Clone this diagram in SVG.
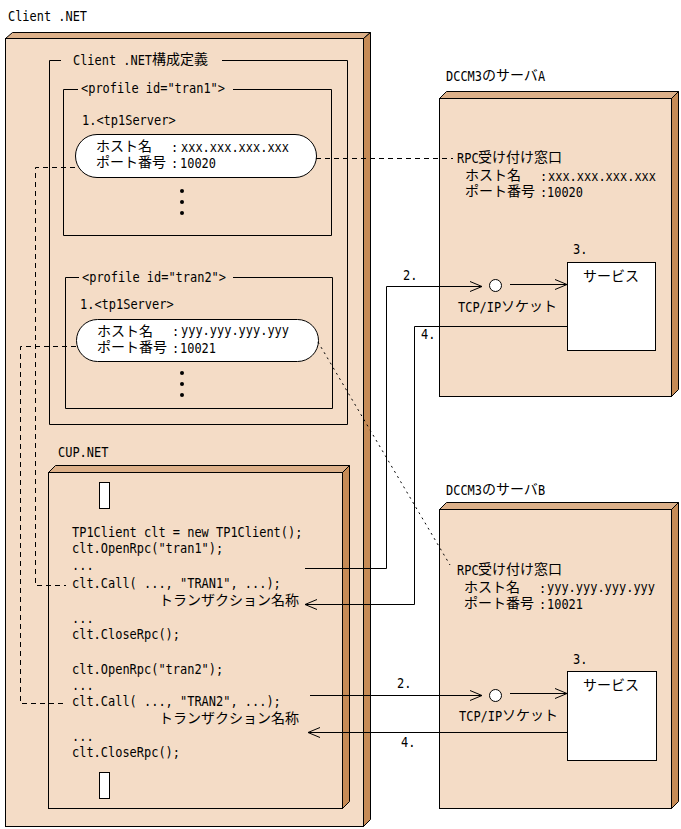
<svg xmlns="http://www.w3.org/2000/svg" width="681" height="829" viewBox="0 0 681 829">
<defs>
<style>
.m{font-family:"DejaVu Sans Mono","Liberation Mono","Noto Sans CJK JP",monospace;font-size:14px;fill:#000}
.j{font-family:"Noto Sans CJK JP",sans-serif;font-size:14px;fill:#000}
.front{fill:#F4DCC6;stroke:#000;stroke-width:1}
.top{fill:#DCB089;stroke:#000;stroke-width:1}
.side{fill:#C68B56;stroke:#000;stroke-width:1}
.ln{fill:none;stroke:#000;stroke-width:1}
.dash{fill:none;stroke:#000;stroke-width:1;stroke-dasharray:5 4}
.dot{fill:none;stroke:#000;stroke-width:1;stroke-dasharray:2 4}
.wb{fill:#fff;stroke:#000;stroke-width:1}
</style>
<marker id="ah" viewBox="0 0 13 12" refX="12" refY="6" markerWidth="13" markerHeight="12" markerUnits="userSpaceOnUse" orient="auto">
<path d="M0,1 L12,6 L0,11" fill="none" stroke="#000" stroke-width="1"/>
</marker>
</defs>
<rect width="681" height="829" fill="#fff"/>

<g id="client-net">
<text class="m" x="8" y="21" textLength="79" lengthAdjust="spacingAndGlyphs">Client .NET</text>
<polygon class="top" points="5.5,38.5 12.5,32.5 370.5,32.5 363.5,38.5"/>
<polygon class="side" points="363.5,38.5 370.5,32.5 370.5,819.5 363.5,826.5"/>
<rect class="front" x="5.5" y="38.5" width="358" height="788"/>
</g>

<g id="config-frame">
<path class="ln" d="M61,60.5 H49.5 V424.5 H347.5 V60.5 H222"/>
<text class="m" x="73" y="65" textLength="79" lengthAdjust="spacingAndGlyphs">Client .NET</text>
<text class="j" x="152" y="64">構成定義</text>
</g>

<g id="profile-tran1">
<path class="ln" d="M78,89.5 H63.5 V235.5 H331.5 V89.5 H233"/>
<text class="m" x="81" y="93" textLength="144" lengthAdjust="spacingAndGlyphs">&lt;profile id="tran1"&gt;</text>
<text class="m" x="82" y="125" textLength="93.6" lengthAdjust="spacingAndGlyphs">1.&lt;tp1Server&gt;</text>
<rect class="wb" x="75.5" y="134.5" width="241" height="43" rx="21.5" ry="21.5"/>
<text class="j" x="96" y="151">ホスト名</text>
<text class="m" x="171" y="152" textLength="7.2" lengthAdjust="spacingAndGlyphs">:</text>
<text class="m" x="181" y="152" textLength="108" lengthAdjust="spacingAndGlyphs">xxx.xxx.xxx.xxx</text>
<text class="j" x="96" y="167">ポート番号</text>
<text class="m" x="171" y="168" textLength="7.2" lengthAdjust="spacingAndGlyphs">:</text>
<text class="m" x="180" y="168" textLength="36" lengthAdjust="spacingAndGlyphs">10020</text>
<circle cx="182" cy="191" r="2"/>
<circle cx="182" cy="202" r="2"/>
<circle cx="182" cy="213" r="2"/>
</g>

<g id="profile-tran2">
<path class="ln" d="M79,277.5 H65.5 V408.5 H332.5 V277.5 H233"/>
<text class="m" x="82" y="282" textLength="144" lengthAdjust="spacingAndGlyphs">&lt;profile id="tran2"&gt;</text>
<text class="m" x="80" y="309" textLength="93.6" lengthAdjust="spacingAndGlyphs">1.&lt;tp1Server&gt;</text>
<rect class="wb" x="76.5" y="319.5" width="242" height="42" rx="21" ry="21"/>
<text class="j" x="97" y="336">ホスト名</text>
<text class="m" x="172" y="336" textLength="7.2" lengthAdjust="spacingAndGlyphs">:</text>
<text class="m" x="181" y="335" textLength="108" lengthAdjust="spacingAndGlyphs">yyy.yyy.yyy.yyy</text>
<text class="j" x="97" y="352">ポート番号</text>
<text class="m" x="172" y="353" textLength="7.2" lengthAdjust="spacingAndGlyphs">:</text>
<text class="m" x="180" y="353" textLength="36" lengthAdjust="spacingAndGlyphs">10021</text>
<circle cx="182" cy="373" r="2"/>
<circle cx="182" cy="384" r="2"/>
<circle cx="182" cy="395" r="2"/>
</g>

<g id="cup-net">
<text class="m" x="58" y="457" textLength="50.4" lengthAdjust="spacingAndGlyphs">CUP.NET</text>
<polygon class="top" points="48.5,472.5 55.5,465.5 349.5,465.5 342.5,472.5"/>
<polygon class="side" points="342.5,472.5 349.5,465.5 349.5,801.5 342.5,808.5"/>
<rect class="front" x="48.5" y="472.5" width="294" height="336"/>
<rect class="wb" x="99.5" y="482.5" width="10" height="26"/>
<rect class="wb" x="99.5" y="772.5" width="10" height="26"/>
<text class="m" x="72" y="537" textLength="230.4" lengthAdjust="spacingAndGlyphs">TP1Client clt = new TP1Client();</text>
<text class="m" x="72" y="553" textLength="151.2" lengthAdjust="spacingAndGlyphs">clt.OpenRpc("tran1");</text>
<text class="m" x="72" y="570" textLength="21.6" lengthAdjust="spacingAndGlyphs">...</text>
<text class="m" x="72" y="588" textLength="208.8" lengthAdjust="spacingAndGlyphs">clt.Call( ..., "TRAN1", ...);</text>
<text class="j" x="159" y="605">トランザクション名称</text>
<text class="m" x="72" y="623" textLength="21.6" lengthAdjust="spacingAndGlyphs">...</text>
<text class="m" x="72" y="639" textLength="108" lengthAdjust="spacingAndGlyphs">clt.CloseRpc();</text>
<text class="m" x="72" y="674" textLength="151.2" lengthAdjust="spacingAndGlyphs">clt.OpenRpc("tran2");</text>
<text class="m" x="72" y="690" textLength="21.6" lengthAdjust="spacingAndGlyphs">...</text>
<text class="m" x="72" y="706" textLength="208.8" lengthAdjust="spacingAndGlyphs">clt.Call( ..., "TRAN2", ...);</text>
<text class="j" x="159" y="723">トランザクション名称</text>
<text class="m" x="72" y="741" textLength="21.6" lengthAdjust="spacingAndGlyphs">...</text>
<text class="m" x="72" y="757" textLength="108" lengthAdjust="spacingAndGlyphs">clt.CloseRpc();</text>
</g>

<g id="server-a">
<text class="m" x="446" y="81" textLength="36" lengthAdjust="spacingAndGlyphs">DCCM3</text>
<text class="j" x="482" y="80">のサーバ</text>
<text class="m" x="538" y="81" textLength="7.2" lengthAdjust="spacingAndGlyphs">A</text>
<polygon class="top" points="439.5,98.5 446.5,91.5 678.5,91.5 671.5,98.5"/>
<polygon class="side" points="671.5,98.5 678.5,91.5 678.5,389.5 671.5,396.5"/>
<rect class="front" x="439.5" y="98.5" width="232" height="298"/>
<text class="m" x="457" y="163" textLength="21.6" lengthAdjust="spacingAndGlyphs">RPC</text>
<text class="j" x="478" y="162">受け付け窓口</text>
<text class="j" x="465" y="180">ホスト名</text>
<text class="m" x="540" y="181" textLength="7.2" lengthAdjust="spacingAndGlyphs">:</text>
<text class="m" x="548" y="181" textLength="108" lengthAdjust="spacingAndGlyphs">xxx.xxx.xxx.xxx</text>
<text class="j" x="465" y="196">ポート番号</text>
<text class="m" x="540" y="197" textLength="7.2" lengthAdjust="spacingAndGlyphs">:</text>
<text class="m" x="547" y="197" textLength="36" lengthAdjust="spacingAndGlyphs">10020</text>
<text class="m" x="573" y="254" textLength="14.4" lengthAdjust="spacingAndGlyphs">3.</text>
<rect class="wb" x="567.5" y="262.5" width="88" height="88"/>
<text class="j" x="583" y="281">サービス</text>
<circle class="wb" cx="495.5" cy="285.5" r="6"/>
<text class="m" x="458" y="312" textLength="43.2" lengthAdjust="spacingAndGlyphs">TCP/IP</text>
<text class="j" x="501" y="311">ソケット</text>
</g>

<g id="server-b">
<text class="m" x="446" y="495" textLength="36" lengthAdjust="spacingAndGlyphs">DCCM3</text>
<text class="j" x="482" y="494">のサーバ</text>
<text class="m" x="538" y="495" textLength="7.2" lengthAdjust="spacingAndGlyphs">B</text>
<polygon class="top" points="439.5,509.5 446.5,502.5 678.5,502.5 671.5,509.5"/>
<polygon class="side" points="671.5,509.5 678.5,502.5 678.5,801.5 671.5,808.5"/>
<rect class="front" x="439.5" y="509.5" width="232" height="299"/>
<text class="m" x="457" y="575" textLength="21.6" lengthAdjust="spacingAndGlyphs">RPC</text>
<text class="j" x="478" y="574">受け付け窓口</text>
<text class="j" x="464" y="592">ホスト名</text>
<text class="m" x="539" y="593" textLength="7.2" lengthAdjust="spacingAndGlyphs">:</text>
<text class="m" x="547" y="592" textLength="108" lengthAdjust="spacingAndGlyphs">yyy.yyy.yyy.yyy</text>
<text class="j" x="464" y="608">ポート番号</text>
<text class="m" x="539" y="609" textLength="7.2" lengthAdjust="spacingAndGlyphs">:</text>
<text class="m" x="547" y="609" textLength="36" lengthAdjust="spacingAndGlyphs">10021</text>
<text class="m" x="573" y="664" textLength="14.4" lengthAdjust="spacingAndGlyphs">3.</text>
<rect class="wb" x="567.5" y="671.5" width="89" height="89"/>
<text class="j" x="583" y="690">サービス</text>
<circle class="wb" cx="495.5" cy="695.5" r="6"/>
<text class="m" x="459" y="721" textLength="43.2" lengthAdjust="spacingAndGlyphs">TCP/IP</text>
<text class="j" x="502" y="720">ソケット</text>
</g>

<g id="connectors">
<path class="dash" d="M316,158.5 H453"/>
<path class="dash" d="M75,167.5 H35.5 V585.5 H66"/>
<path class="dash" d="M76,346.5 H20.5 V703.5 H64"/>
<path class="dot" d="M318,342 L450,565"/>
<path class="ln" marker-end="url(#ah)" d="M305,568.5 H386.5 V286.5 H482"/>
<path class="ln" marker-end="url(#ah)" d="M510,284.5 H567"/>
<path class="ln" marker-end="url(#ah)" d="M567,326.5 H414.5 V604.5 H305"/>
<path class="ln" marker-end="url(#ah)" d="M310,695.5 H482"/>
<path class="ln" marker-end="url(#ah)" d="M510,693.5 H567"/>
<path class="ln" marker-end="url(#ah)" d="M567,732.5 H308"/>
<text class="m" x="403" y="280" textLength="14.4" lengthAdjust="spacingAndGlyphs">2.</text>
<text class="m" x="421" y="339" textLength="14.4" lengthAdjust="spacingAndGlyphs">4.</text>
<text class="m" x="397" y="688" textLength="14.4" lengthAdjust="spacingAndGlyphs">2.</text>
<text class="m" x="401" y="747" textLength="14.4" lengthAdjust="spacingAndGlyphs">4.</text>
</g>
</svg>
